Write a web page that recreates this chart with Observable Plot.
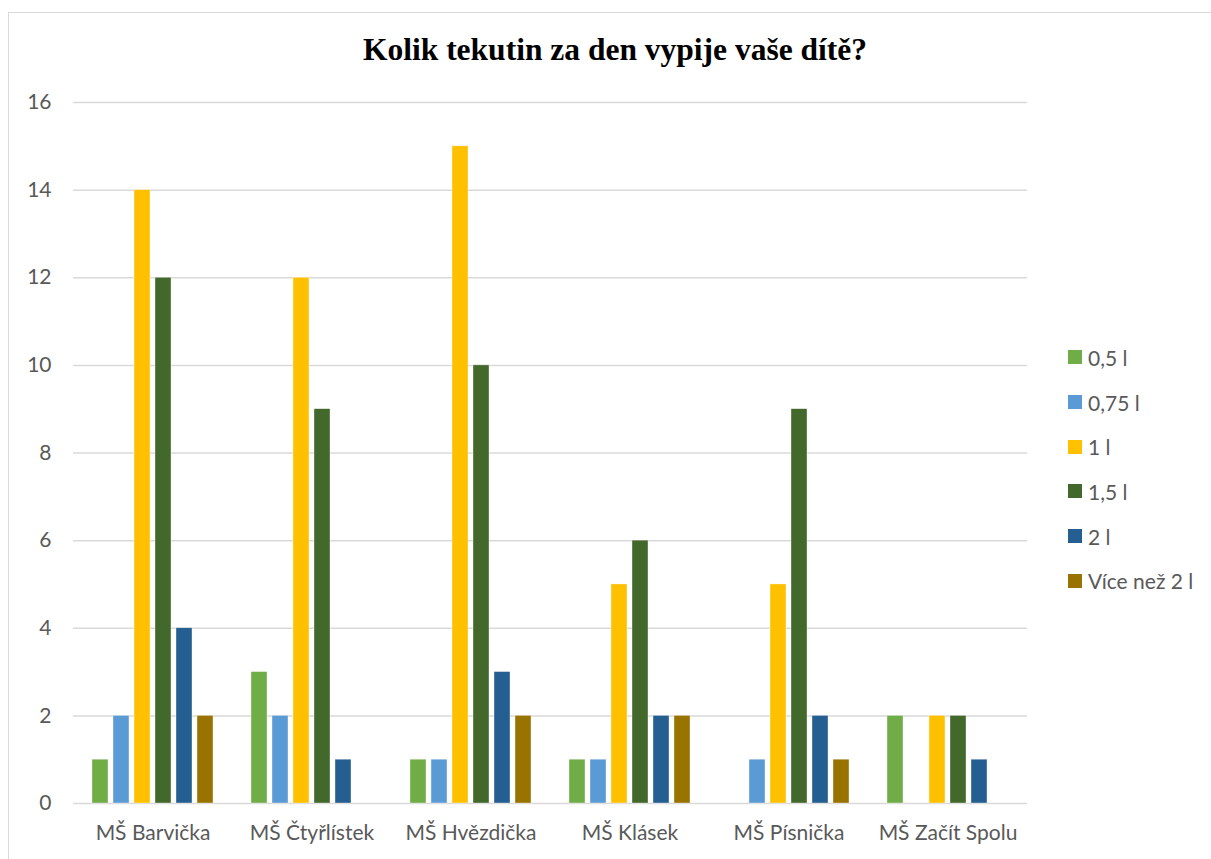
<!DOCTYPE html>
<html>
<head>
<meta charset="utf-8">
<script src="https://cdn.jsdelivr.net/npm/d3@7"></script>
<script src="https://cdn.jsdelivr.net/npm/@observablehq/plot@0.6"></script>
<style>
  body { margin: 0; background: #fff; width: 1211px; height: 859px; overflow: hidden; position: relative; font-family: Lato, "Open Sans", sans-serif; }
  #frame { position: absolute; left: 8px; top: 12px; width: 1230px; height: 900px; border: 1px solid #d9d9d9; box-sizing: border-box; }
  #title { position: absolute; left: 0; top: 0; width: 1230px; height: 80px; text-align: center; font-family: "Liberation Serif", "Times New Roman", serif; font-weight: bold; font-size: 31.5px; color: #000; line-height: 80px; padding-top: 10px; box-sizing: border-box; }
  #chart { position: absolute; left: 0; top: 80px; }
  #legend { position: absolute; left: 1068px; top: 335px; }
  .item { display: flex; align-items: center; height: 44.7px; font-size: 21px; color: #595959; }
  .sw { width: 14px; height: 14px; margin-right: 6px; flex: none; }
</style>
</head>
<body>
<div id="frame"></div>
<div id="title">Kolik tekutin za den vypije vaše dítě?</div>
<div id="chart"></div>
<div id="legend"></div>
<script>
const categories = ["MŠ Barvička", "MŠ Čtyřlístek", "MŠ Hvězdička", "MŠ Klásek", "MŠ Písnička", "MŠ Začít Spolu"];
const series = ["0,5 l", "0,75 l", "1 l", "1,5 l", "2 l", "Více než 2 l"];
const v05 = [1, 3, 1, 1, 0, 2];
const v075 = [2, 2, 1, 1, 1, 0];
const v1 = [14, 12, 15, 5, 5, 2];
const v15 = [12, 9, 10, 6, 9, 2];
const v2 = [4, 1, 3, 2, 2, 1];
const vMore = [2, 0, 2, 2, 1, 0];
const colors = ["#70AD47", "#5B9BD5", "#FFC000", "#43682B", "#255E91", "#997300"];
const yTicks = [0, 2, 4, 6, 8, 10, 12, 14, 16];

const seriesValues = [v05, v075, v1, v15, v2, vMore];
const data = [];
categories.forEach((c, i) => {
  series.forEach((s, j) => {
    const v = seriesValues[j][i];
    if (v > 0) data.push({school: c, series: s, value: v});
  });
});

const chart = Plot.plot({
  width: 1040,
  height: 779,
  marginTop: 22,
  marginBottom: 56,
  marginLeft: 73,
  marginRight: 13,
  style: {fontFamily: "Lato, 'Open Sans', sans-serif", fontSize: "21px", color: "#595959", background: "transparent"},
  fx: {domain: categories, padding: 0, label: null, axis: "bottom", tickSize: 0, tickPadding: 22},
  x: {domain: series, paddingInner: 0.22, paddingOuter: 0.86, axis: null},
  y: {domain: [0, 16], ticks: yTicks, label: null, tickSize: 0, tickPadding: 22},
  color: {domain: series, range: colors},
  marks: [
    Plot.gridY(yTicks, {stroke: "#d9d9d9", strokeOpacity: 1, strokeWidth: 1.5}),
    Plot.barY(data, {fx: "school", x: "series", y: "value", fill: "series", stroke: "#ffffff", strokeWidth: 0.6, strokeOpacity: 0.6}),
    Plot.axisY(yTicks, {tickSize: 0, tickPadding: 22, label: null, fill: "#595959"}),
  ]
});
document.getElementById("chart").appendChild(chart);

const legend = document.getElementById("legend");
series.forEach((s, i) => {
  const row = document.createElement("div");
  row.className = "item";
  const sw = document.createElement("span");
  sw.className = "sw";
  sw.style.background = colors[i];
  const t = document.createElement("span");
  t.textContent = s;
  row.appendChild(sw);
  row.appendChild(t);
  legend.appendChild(row);
});
</script>
</body>
</html>
